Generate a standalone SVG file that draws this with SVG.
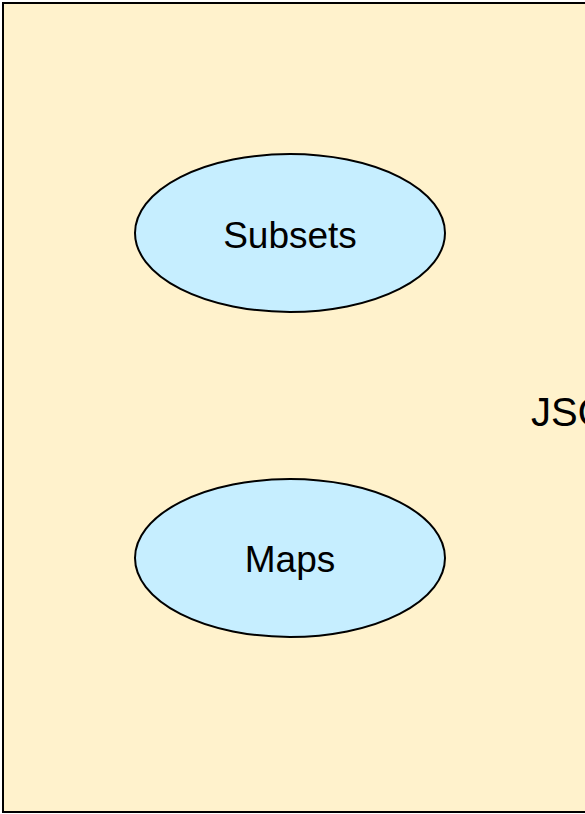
<svg xmlns="http://www.w3.org/2000/svg" width="585" height="814" viewBox="0 0 585 814">
<style>
.node{fill:#C6EEFF;stroke:#000;stroke-width:2}
.lbl{font-family:"Liberation Sans",Arial,sans-serif;font-size:37px;fill:#000;text-anchor:middle}
</style>
<rect width="585" height="814" fill="#fff"/>
<g id="container">
<rect x="3" y="3" width="640" height="809" fill="#FFF2CC" stroke="#000" stroke-width="2"/>
<text x="531" y="426" font-family="Liberation Sans,Arial,sans-serif" font-size="40" fill="#000">JSO</text>
</g>
<g id="connectors"></g>
<g id="subsets">
<ellipse class="node" cx="290" cy="233" rx="155" ry="79"/>
<text class="lbl" x="290" y="248">Subsets</text>
</g>
<g id="maps">
<ellipse class="node" cx="290" cy="558" rx="155" ry="79"/>
<text class="lbl" x="290" y="572">Maps</text>
</g>
</svg>
